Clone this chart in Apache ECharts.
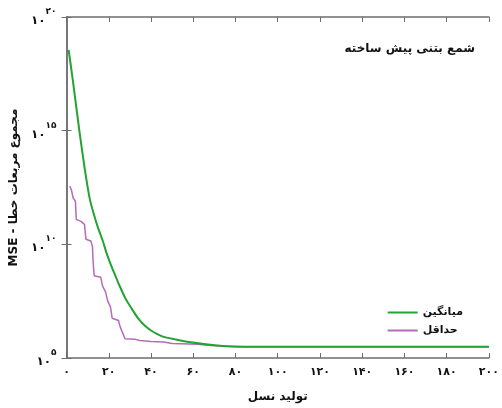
<!DOCTYPE html>
<html>
<head>
<meta charset="utf-8">
<script src="https://cdn.jsdelivr.net/npm/echarts@6/dist/echarts.min.js"></script>
<style>html,body{margin:0;padding:0;background:#fff}#c{width:502px;height:408px}</style>
</head>
<body>
<div id="c"></div>
<script>
// generations and log10(MSE)
const meanGen   = [1, 3, 6, 8.5, 11, 13, 15, 17, 19, 21, 23, 25, 28, 31, 34, 37, 40, 43, 46, 51, 58, 66, 74, 82, 100, 200];
const meanLog10 = [18.55, 17.2, 15.05, 13.4, 12.0, 11.3, 10.7, 10.2, 9.6, 9.1, 8.65, 8.2, 7.6, 7.15, 6.73, 6.43, 6.21, 6.05, 5.93, 5.83, 5.7, 5.6, 5.53, 5.5, 5.5, 5.5];
const minGen    = [1.5, 2.3, 3.1, 4.2, 4.6, 7.0, 8.5, 9.2, 11.5, 12.3, 12.6, 13.1, 16.2, 17, 18.5, 19.5, 20.8, 21.6, 24.6, 25.4, 27.7, 32.3, 34.6, 40, 46, 50, 62, 68, 75, 85, 200];
const minLog10  = [12.56, 12.4, 12.05, 11.9, 11.1, 11.0, 10.88, 10.22, 10.15, 9.88, 9.2, 8.62, 8.55, 8.18, 7.9, 7.5, 7.25, 6.75, 6.65, 6.37, 5.85, 5.83, 5.77, 5.73, 5.7, 5.64, 5.6, 5.55, 5.52, 5.5, 5.5];
const seriesNames = ['میانگین', 'حداقل'];
const titleText = 'شمع بتنی پیش ساخته';
const xName = 'تولید نسل';
const yName = 'MSE - مجموع مربعات خطا';

const fa = s => String(s).replace(/[0-9]/g, d => '۰۱۲۳۴۵۶۷۸۹'[d]);
const zip = (g, l) => g.map((x, i) => [x, Math.pow(10, l[i])]);
const FONT = 'DejaVu Sans';
const axisCol = '#6e6e6e';

const chart = echarts.init(document.getElementById('c'), null, {renderer: 'canvas'});
chart.setOption({
  animation: false,
  backgroundColor: '#fff',
  title: {
    text: titleText, right: 22, top: 38,
    textStyle: {fontFamily: FONT, fontSize: 12, fontWeight: 'bold', color: '#111'}
  },
  legend: {
    orient: 'vertical', right: 34, top: 302, itemWidth: 30, itemHeight: 2, itemGap: 7,
    icon: 'rect',
    textStyle: {fontFamily: FONT, fontSize: 11, fontWeight: 'bold', color: '#111'},
    data: seriesNames
  },
  grid: {left: 60, right: 9, top: 17, bottom: 49},
  xAxis: [{
    type: 'value', min: 0, max: 200, interval: 20,
    name: xName, nameLocation: 'middle', nameGap: 33,
    nameTextStyle: {fontFamily: FONT, fontSize: 12, fontWeight: 'bold', color: '#111'},
    axisLine: {lineStyle: {color: axisCol, width: 1.5}},
    axisTick: {inside: true, length: 5, lineStyle: {color: axisCol}},
    axisLabel: {fontFamily: FONT, fontSize: 11, fontWeight: 'bold', color: '#111', margin: 9, formatter: v => fa(v)},
    splitLine: {show: false}
  }, {
    type: 'value', min: 0, max: 200, interval: 20, position: 'top',
    axisLine: {show: true, lineStyle: {color: axisCol, width: 1.5}},
    axisTick: {show: true, inside: true, length: 5, lineStyle: {color: axisCol}},
    axisLabel: {show: false}, splitLine: {show: false}
  }],
  yAxis: [{
    type: 'log', logBase: 10, min: 1e5, max: 1e20, interval: 5,
    name: yName, nameLocation: 'middle', nameGap: 35,
    nameTextStyle: {fontFamily: FONT, fontSize: 12, fontWeight: 'bold', color: '#111'},
    axisLine: {show: true, lineStyle: {color: axisCol, width: 1.5}},
    axisTick: {show: true, inside: true, length: 5, lineStyle: {color: axisCol}},
    axisLabel: {
      margin: 10,
      formatter: v => '{b|۱۰}{s|' + fa(Math.round(Math.log10(v))) + '}',
      rich: {
        b: {fontFamily: FONT, fontSize: 12, fontWeight: 'bold', color: '#111', verticalAlign: 'bottom', lineHeight: 20},
        s: {fontFamily: FONT, fontSize: 9, fontWeight: 'bold', color: '#111', verticalAlign: 'top', lineHeight: 20}
      }
    },
    splitLine: {show: false}
  }, {
    type: 'log', logBase: 10, min: 1e5, max: 1e20, interval: 5, position: 'right',
    axisLine: {show: true, lineStyle: {color: axisCol, width: 1.5}},
    axisTick: {show: true, inside: true, length: 5, lineStyle: {color: axisCol}},
    axisLabel: {show: false}, splitLine: {show: false}
  }],
  series: [{
    name: seriesNames[0], type: 'line', symbol: 'none', smooth: 0.2,
    lineStyle: {color: '#23a334', width: 2}, itemStyle: {color: '#23a334'},
    data: zip(meanGen, meanLog10), z: 3
  }, {
    name: seriesNames[1], type: 'line', symbol: 'none',
    lineStyle: {color: '#b46cb8', width: 1.5}, itemStyle: {color: '#b46cb8'},
    data: zip(minGen, minLog10), z: 2
  }]
});
</script>
</body>
</html>
